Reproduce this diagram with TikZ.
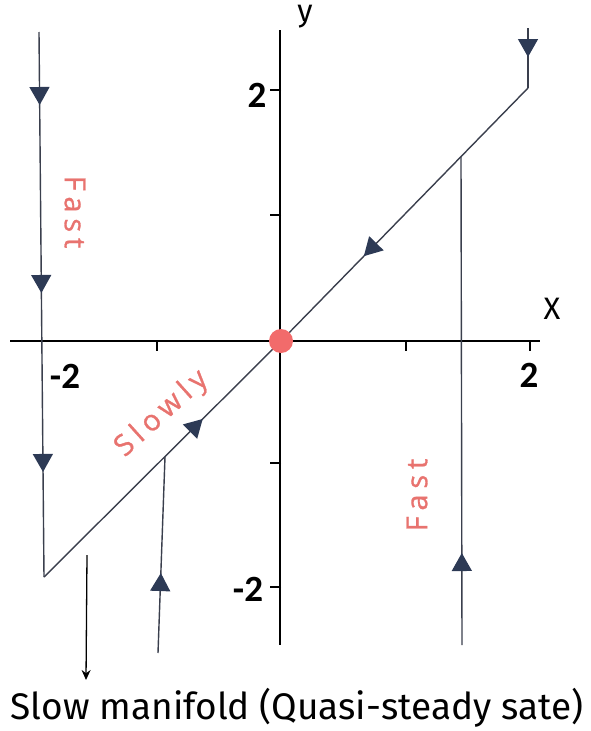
\documentclass[tikz,border=0pt]{standalone}
\usepackage{fontspec}
\setmainfont{Open Sans}
\newfontfamily\capfont{Fira Sans}
\newfontfamily\numfont{Carlito}
\newfontfamily\labfont[LetterSpace=20,FakeBold=1]{Open Sans}
\usetikzlibrary{arrows.meta,decorations.markings}
\definecolor{trajc}{HTML}{3A3F4D}
\definecolor{navyc}{HTML}{2D3A55}
\definecolor{salmon}{HTML}{E8736F}
\definecolor{dotred}{HTML}{F26B6B}
\tikzset{
  navytip/.tip={Triangle[width=20pt,length=18pt,color=navyc,fill=navyc]},
  axisln/.style={line width=1.6pt, black},
  tickln/.style={line width=1.3pt, black},
  trajln/.style={line width=1.4pt, trajc},
  numlab/.style={font=\numfont\bfseries\fontsize{37}{37}\selectfont, inner sep=0pt},
  varlab/.style={font=\capfont\fontsize{31}{31}\selectfont, inner sep=0pt},
  redlab/.style={font=\labfont\fontsize{29}{29}\selectfont, text=salmon, inner sep=0pt},
}
\begin{document}
\begin{tikzpicture}[x=1pt,y=-1pt]
\useasboundingbox (0,0) rectangle (591,731);
% coordinates
\coordinate (O) at (281,341);
\coordinate (xl) at (10,341);
\coordinate (xr) at (540,341);
\coordinate (yt) at (280,30);
\coordinate (yb) at (280,645);
\coordinate (A1) at (39,32);
\coordinate (A2) at (44,577);
\coordinate (B1) at (528,28);
\coordinate (B2) at (528,88);
\coordinate (C1) at (462,645);
\coordinate (C2) at (461,157);
\coordinate (D1) at (158,653);
\coordinate (D2) at (165,457);
\coordinate (E1) at (87,555);
\coordinate (E2) at (86,680);
% axes
\draw[axisln] (xl) -- (xr);
\draw[axisln] (yt) -- (yb);
\foreach \tx/\nm in {157/a,406/b,530/c}
  \draw[tickln] (\tx,341) coordinate (tx\nm) -- (\tx,351);
\foreach \ty/\nm in {90/a,215/b,463/c,587/d}
  \draw[tickln] (281,\ty) coordinate (ty\nm) -- (270,\ty);
% trajectories
\draw[trajln, postaction={decorate}, decoration={markings,
   mark=at position 73pt with {\arrow{navytip}},
   mark=at position 261pt with {\arrow{navytip}},
   mark=at position 440pt with {\arrow{navytip}}}] (A1) -- (A2);
\draw[trajln, postaction={decorate}, decoration={markings,
   mark=at position 224pt with {\arrow{navytip}}}] (A2) -- (O);
\draw[trajln, postaction={decorate}, decoration={markings,
   mark=at position 29pt with {\arrow{navytip}}}] (B1) -- (B2);
\draw[trajln, postaction={decorate}, decoration={markings,
   mark=at position 235pt with {\arrow{navytip}}}] (B2) -- (O);
\draw[trajln, postaction={decorate}, decoration={markings,
   mark=at position 92pt with {\arrow{navytip}}}] (C1) -- (C2);
\draw[trajln, postaction={decorate}, decoration={markings,
   mark=at position 80pt with {\arrow{navytip}}}] (D1) -- (D2);
\draw[line width=1.3pt, black, -{Stealth[length=10pt,width=9pt]}] (E1) -- (E2);
% origin dot
\fill[dotred] (O) circle (12pt);
% labels
\node[numlab] (ly2) at (257,95) {2};
\node[numlab] (lym2) at (248,589) {-2};
\node[numlab] (lxm2) at (65,376) {-2};
\node[numlab] (lx2) at (529,375) {2};
\node[varlab] (ly) at (305,17) {y};
\node[varlab] (lx) at (552,309) {X};
\node[redlab, rotate=-90] (fast1) at (75,212) {Fast};
\node[redlab, rotate=90] (fast2) at (417,495) {Fast};
\node[redlab, rotate=42] (slowly) at (162,414) {Slowly};
\node[font=\capfont\fontsize{37}{37}\selectfont, inner sep=0pt] (cap) at (297,708) {Slow manifold (Quasi-steady sate)};
\end{tikzpicture}
\end{document}
